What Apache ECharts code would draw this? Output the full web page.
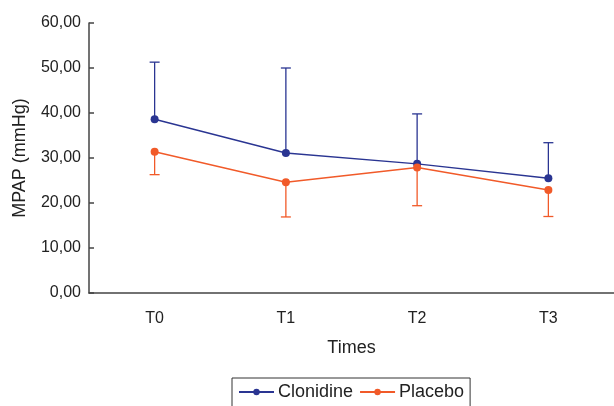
<!DOCTYPE html>
<html><head><meta charset="utf-8">
<script src="https://cdn.jsdelivr.net/npm/echarts@6/dist/echarts.min.js"></script>
<style>html,body{margin:0;padding:0;background:#fff}#c{width:614px;height:406px}</style>
</head><body><div id="c"></div>
<script>
var categories = ['T0', 'T1', 'T2', 'T3'];
var clonidine = [38.6, 31.1, 28.7, 25.5];
var clonidineUpper = [51.3, 50.0, 39.8, 33.4];
var placebo = [31.4, 24.6, 27.9, 22.9];
var placeboLower = [26.3, 16.9, 19.4, 17.0];
var yTicks = [0, 10, 20, 30, 40, 50, 60];

var blue = '#2a3592', orange = '#f15a29';
function errData(mean, bound) { return mean.map(function (m, i) { return [i, m, bound[i]]; }); }
function errRender(color) {
  return function (params, api) {
    var p1 = api.coord([api.value(0), api.value(1)]);
    var p2 = api.coord([api.value(0), api.value(2)]);
    var w = 5;
    return { type: 'group', children: [
      { type: 'line', shape: { x1: p1[0], y1: p1[1], x2: p2[0], y2: p2[1] }, style: { stroke: color, lineWidth: 1.3 } },
      { type: 'line', shape: { x1: p2[0] - w, y1: p2[1], x2: p2[0] + w, y2: p2[1] }, style: { stroke: color, lineWidth: 1.3 } }
    ] };
  };
}
var chart = echarts.init(document.getElementById('c'), null, { renderer: 'canvas' });
chart.setOption({
  animation: false,
  textStyle: { fontFamily: 'Liberation Sans' },
  grid: { left: 89, right: 0, top: 23, bottom: 113 },
  xAxis: {
    type: 'category', data: categories, boundaryGap: true,
    name: 'Times', nameLocation: 'middle', nameGap: 46,
    nameTextStyle: { fontSize: 18, color: '#222' },
    axisLine: { lineStyle: { color: '#444', width: 1.5 } },
    axisTick: { show: false },
    axisLabel: { fontSize: 16, color: '#222', margin: 18 }
  },
  yAxis: {
    type: 'value', min: yTicks[0], max: yTicks[yTicks.length - 1], interval: 10,
    name: 'MPAP (mmHg)', nameLocation: 'middle', nameGap: 60,
    nameTextStyle: { fontSize: 18, color: '#222' },
    axisLine: { show: true, lineStyle: { color: '#444', width: 1.5 } },
    axisTick: { show: true, inside: true, length: 5, lineStyle: { color: '#444', width: 1.5 } },
    splitLine: { show: false },
    axisLabel: { fontSize: 16, color: '#222', margin: 8, formatter: function (v) { return v.toFixed(2).replace('.', ','); } }
  },
  legend: {
    top: 378, left: 232, data: ['Clonidine', 'Placebo'],
    borderColor: '#333', borderWidth: 1, padding: [5, 6, 10, 6],
    itemWidth: 35, itemHeight: 8, itemGap: 6,
    textStyle: { fontSize: 18, color: '#222', padding: [0, 0, 0, -1] }
  },
  series: [
    { name: 'Clonidine', type: 'line', data: clonidine, symbol: 'circle', symbolSize: 8,
      itemStyle: { color: blue }, lineStyle: { color: blue, width: 1.4 }, z: 3 },
    { name: 'Placebo', type: 'line', data: placebo, symbol: 'circle', symbolSize: 8,
      itemStyle: { color: orange }, lineStyle: { color: orange, width: 1.4 }, z: 3 },
    { type: 'custom', renderItem: errRender(blue), data: errData(clonidine, clonidineUpper), z: 2, silent: true },
    { type: 'custom', renderItem: errRender(orange), data: errData(placebo, placeboLower), z: 2, silent: true }
  ]
});
</script></body></html>
